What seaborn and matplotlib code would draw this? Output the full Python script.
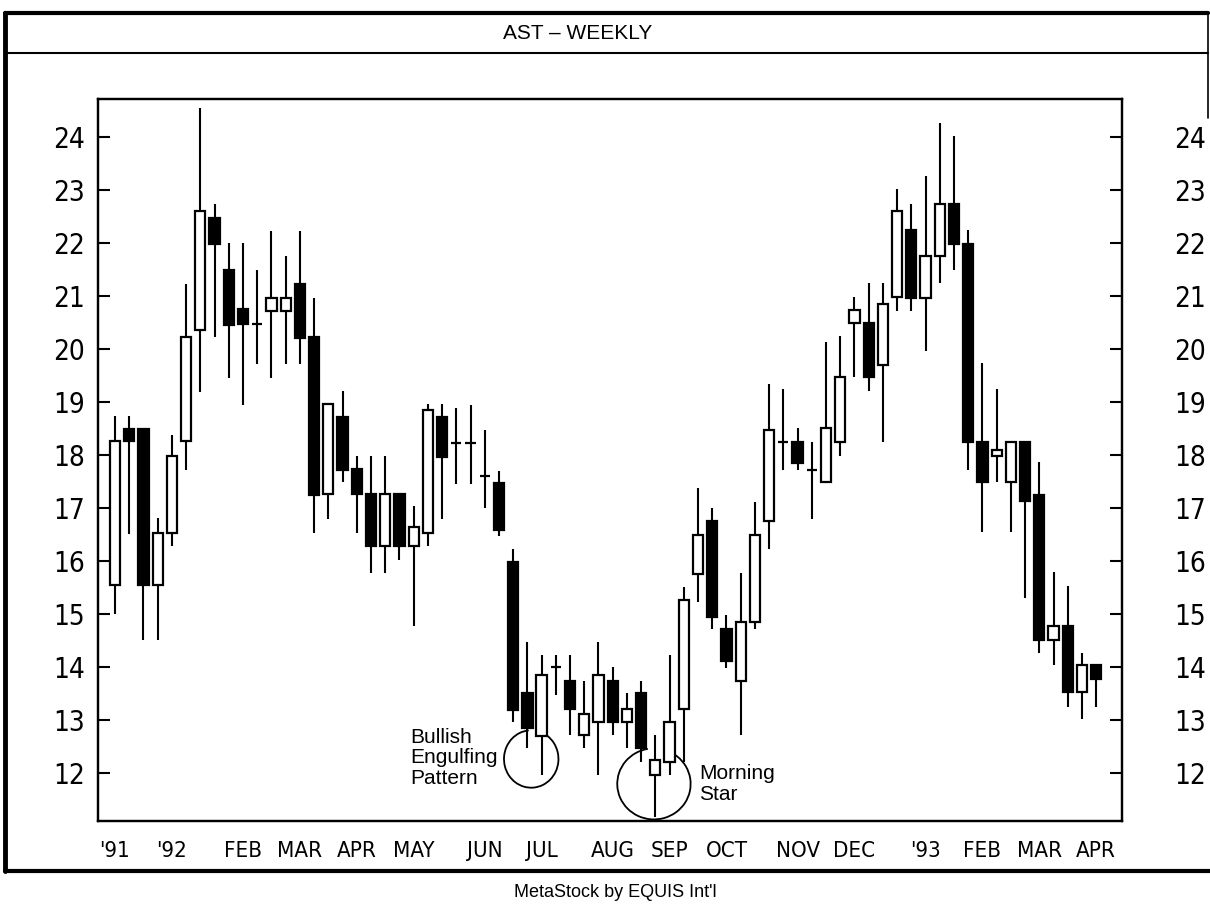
import numpy as np
import pandas as pd
import matplotlib
matplotlib.use('Agg')
import matplotlib.pyplot as plt
from matplotlib.patches import Arc
from matplotlib.lines import Line2D
import seaborn as sns

# weekly OHLC for AST (Dec '91 .. Apr '93)
opens  = [15.54, 18.48, 18.48, 15.54, 16.52, 18.25, 20.35, 22.47, 21.49, 20.74,
          20.46, 20.71, 20.71, 21.22, 20.22, 17.25, 18.71, 17.73, 17.25, 16.27,
          17.25, 16.27, 16.52, 18.71, 18.22, 18.22, 17.59, 17.46, 15.98, 13.50,
          12.69, 13.99, 13.73, 12.71, 12.96, 13.73, 12.96, 13.50, 11.96, 12.21,
          13.21, 15.74, 16.74, 14.72, 13.73, 14.85, 16.75, 18.24, 18.24, 17.72,
          17.49, 18.24, 20.48, 20.48, 19.70, 20.98, 22.24, 20.96, 21.74, 22.72,
          21.98, 18.24, 17.97, 17.49, 18.24, 17.24, 14.50, 14.76, 13.53, 14.03]
highs  = [18.73, 18.73, 18.48, 16.80, 18.37, 21.22, 24.54, 22.72, 21.99, 21.99,
          21.49, 22.22, 21.74, 22.22, 20.96, 18.96, 19.21, 17.97, 17.97, 17.97,
          17.25, 17.03, 18.96, 18.96, 18.88, 18.94, 18.47, 17.70, 16.23, 14.47,
          14.22, 14.22, 14.22, 13.73, 14.47, 13.99, 13.50, 13.73, 12.71, 14.22,
          15.50, 17.37, 16.99, 14.98, 15.76, 17.11, 19.33, 19.23, 18.50, 18.24,
          20.12, 20.23, 20.98, 21.24, 21.24, 23.01, 22.72, 23.26, 24.26, 24.02,
          22.24, 19.73, 19.23, 18.24, 18.24, 17.86, 15.78, 15.53, 14.26, 14.03]
lows   = [15.00, 16.50, 14.50, 14.50, 16.27, 17.71, 19.19, 20.22, 19.44, 18.94,
          19.71, 19.44, 19.71, 19.71, 16.52, 16.79, 17.48, 16.52, 15.77, 15.77,
          16.02, 14.77, 16.27, 16.79, 17.45, 17.45, 16.99, 16.47, 12.96, 12.46,
          11.96, 13.47, 12.71, 12.46, 11.96, 12.71, 12.46, 12.21, 11.17, 11.96,
          12.21, 15.23, 14.71, 13.97, 12.71, 14.72, 16.23, 17.72, 17.72, 16.78,
          17.49, 17.97, 19.46, 19.21, 18.24, 20.71, 20.71, 19.96, 21.24, 21.49,
          17.72, 16.54, 17.49, 16.54, 15.30, 14.26, 14.03, 13.25, 13.02, 13.25]
closes = [18.25, 18.25, 15.54, 16.52, 17.97, 20.22, 22.59, 21.97, 20.44, 20.46,
          20.46, 20.96, 20.96, 20.21, 17.23, 18.96, 17.71, 17.25, 16.27, 17.25,
          16.27, 16.63, 18.84, 17.95, 18.22, 18.22, 17.59, 16.58, 13.18, 12.84,
          13.84, 13.99, 13.21, 13.10, 13.84, 12.96, 13.21, 12.46, 12.24, 12.96,
          15.25, 16.49, 14.93, 14.10, 14.85, 16.49, 18.47, 18.24, 17.84, 17.72,
          18.50, 19.46, 20.73, 19.46, 20.84, 22.60, 20.96, 21.74, 22.72, 21.97,
          18.24, 17.49, 18.09, 18.24, 17.13, 14.50, 14.76, 13.53, 14.03, 13.77]

tick_weeks  = [0, 4, 9, 13, 17, 21, 26, 30, 35, 39, 43, 48, 52, 57, 61, 65, 69]
tick_labels = ["'91", "'92", 'FEB', 'MAR', 'APR', 'MAY', 'JUN', 'JUL', 'AUG',
               'SEP', 'OCT', 'NOV', 'DEC', "'93", 'FEB', 'MAR', 'APR']
price_ticks = list(range(12, 25))

df = pd.DataFrame({'week': np.arange(len(opens)), 'open': opens, 'high': highs,
                   'low': lows, 'close': closes})
df['up'] = df['close'] >= df['open']
df['body_lo'] = df[['open', 'close']].min(axis=1)
df['body_h'] = (df['close'] - df['open']).abs()

sns.set_theme(style='white', rc={'text.color': 'black', 'axes.labelcolor': 'black',
                                 'xtick.color': 'black', 'ytick.color': 'black'})
NARROW = ['Liberation Sans Narrow', 'DejaVu Sans']
SANS = ['Liberation Sans', 'DejaVu Sans']
plt.rcParams['font.family'] = NARROW
plt.rcParams['font.stretch'] = 'condensed'

fig = plt.figure(figsize=(12.1, 9.05), dpi=100)
ax = fig.add_axes([0.0807, 0.0928, 0.8464, 0.7973])

# wicks then bodies (white bodies hide the wick)
ax.vlines(df['week'], df['low'], df['high'], color='black', lw=1.5, zorder=1)
ax.bar(df['week'], df['body_h'], bottom=df['body_lo'], width=0.72,
       color=np.where(df['up'], 'white', 'black'), edgecolor='black',
       linewidth=1.6, zorder=2)

ax.set_xlim(-1.22, 70.8)
ax.set_ylim(11.09, 24.70)
ax.set_xticks(tick_weeks)
ax.set_xticklabels(tick_labels)
ax.set_yticks(price_ticks)
ax.tick_params(axis='x', direction='inout', length=7, width=1.4, pad=11,
               labelsize=16, colors='black')
ax.tick_params(axis='y', direction='in', length=8.6, width=1.5, pad=9,
               labelsize=20, colors='black', left=True)
for s in ax.spines.values():
    s.set_color('black'); s.set_linewidth(1.6)
ax.grid(False)

ax2 = ax.twinx()
ax2.set_ylim(ax.get_ylim())
ax2.set_yticks(price_ticks)
ax2.tick_params(axis='y', direction='in', length=8.6, width=1.5, pad=38,
                labelsize=20, colors='black', right=True)
ax2.grid(False)
for s in ax2.spines.values():
    s.set_color('black'); s.set_linewidth(1.6)

# pattern annotations
ax.text(20.75, 12.28, 'Bullish\nEngulfing\nPattern', ha='left', va='center',
        fontsize=15, family=SANS, stretch='normal', linespacing=1.1, color='black')
ax.text(41.1, 11.79, 'Morning\nStar', ha='left', va='center',
        fontsize=15, family=SANS, stretch='normal', linespacing=1.1, color='black')
ax.add_patch(Arc((29.27, 12.26), 3.83, 1.083, theta1=108, theta2=381,
                 color='black', lw=1.3))
ax.add_patch(Arc((37.9, 11.79), 5.16, 1.34, theta1=123, theta2=397,
                 color='black', lw=1.3))

# outer frame and title bar
frame = [([0.0041, 0.9983], [0.9856, 0.9856], 3.0),
         ([0.0045, 0.0045], [0.0376, 0.9856], 3.5),
         ([0.0045, 1.0], [0.0376, 0.0376], 3.0),
         ([0.0041, 0.9983], [0.9414, 0.9414], 1.5),
         ([0.9983, 0.9983], [0.8696, 0.9856], 1.2)]
for xs, ys, w in frame:
    fig.add_artist(Line2D(xs, ys, transform=fig.transFigure, color='black', lw=w))

fig.text(578 / 1210, 0.9635, 'AST \u2013 WEEKLY', ha='center', va='center',
         fontsize=15, family=SANS, stretch='normal', color='black')
fig.text(615 / 1210, 0.0133, "MetaStock by EQUIS Int'l", ha='center', va='center',
         fontsize=13, family=SANS, stretch='normal', color='black')

fig.savefig('out.png', dpi=100)
